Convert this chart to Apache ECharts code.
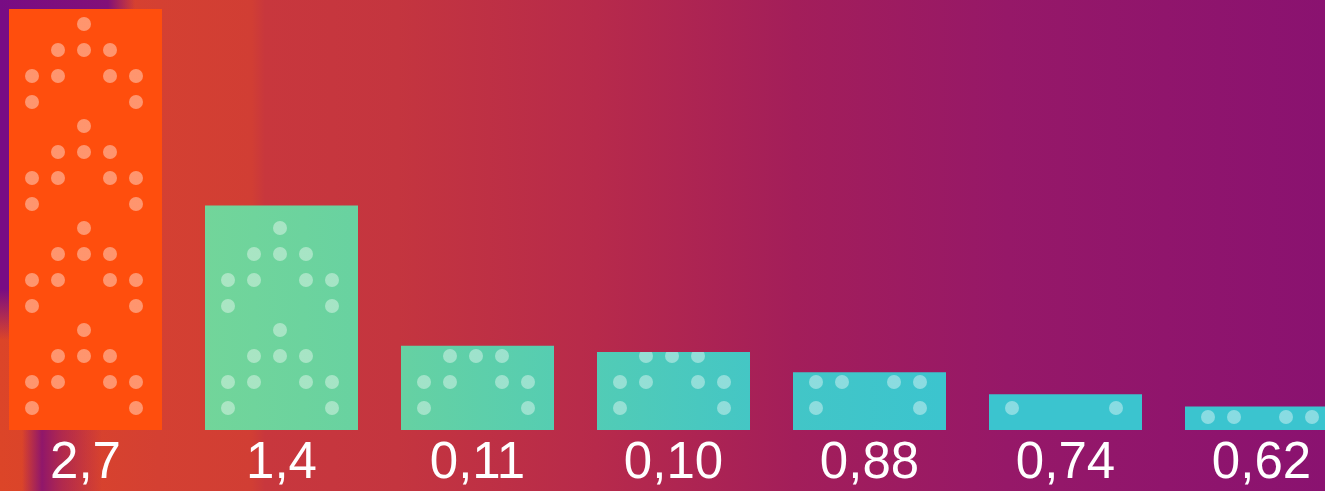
<!DOCTYPE html>
<html>
<head>
<meta charset="utf-8">
<script src="https://cdn.jsdelivr.net/npm/echarts@6/dist/echarts.min.js"></script>
<style>html,body{margin:0;padding:0;background:#fff;}#main{width:1325px;height:491px;}</style>
</head>
<body>
<div id="main"></div>
<script>
// ---- data ----
var categories = ['2,7', '1,4', '0,11', '0,10', '0,88', '0,74', '0,62'];
var values = [2.7, 1.44, 0.54, 0.5, 0.37, 0.23, 0.15];
var highlightIndex = 0;

// ---- decal (dot chevron pattern) styling ----
var DOT_ROWS = {
  A: [0, 77, 14, 105],
  B: [0, 51, 14, 12, 14, 12, 14, 79],
  C: [0, 25, 14, 12, 14, 38, 14, 12, 14, 53],
  D: [0, 25, 14, 90, 14, 53]
};
var fullRows = [[24,'A'],[50,'B'],[76,'C'],[102,'D'],[126,'A'],[152,'B'],[178,'C'],[204,'D'],
                [228,'A'],[254,'B'],[280,'C'],[306,'D'],[330,'A'],[356,'B'],[382,'C'],[408,'D']];
function rowsFrom(minCenter) { return fullRows.filter(function (r) { return r[0] >= minCenter; }); }
var barRows = [
  rowsFrom(0),
  rowsFrom(220),
  rowsFrom(350),
  rowsFrom(350),
  rowsFrom(380),
  rowsFrom(400),
  [[417, 'C']]
];

function makeDecal(rows) {
  var L = 520, dx = [], dy = [], pos = 0;
  rows.forEach(function (r, i) {
    var c = r[0], d, t;
    if (i === 0) { d = 2 * c; t = 0; } else { d = 14; t = c - 7; dy.push(t - pos); }
    dy.push(d);
    pos = t + d;
    dx.push(DOT_ROWS[r[1]]);
  });
  dy.push(L - pos);
  return {
    symbol: 'circle', symbolSize: 1, color: 'rgba(255,255,255,0.4)',
    dashArrayX: dx, dashArrayY: dy, maxTileWidth: 512, maxTileHeight: 9000
  };
}

var chart = echarts.init(document.getElementById('main'), null, { renderer: 'canvas' });

var barGradient = {
  type: 'linear', global: true, x: 205, y: 0, x2: 960, y2: 0,
  colorStops: [
    { offset: 0, color: '#72D59A' },
    { offset: 0.13, color: '#6CD39E' },
    { offset: 0.27, color: '#65D1A3' },
    { offset: 0.47, color: '#55CDB2' },
    { offset: 0.73, color: '#44C6C5' },
    { offset: 1, color: '#3BC4CF' }
  ]
};

var seriesData = values.map(function (v, i) {
  var style = { decal: makeDecal(barRows[i]) };
  if (i === highlightIndex) style.color = '#FF4E0D';
  return { value: v, itemStyle: style };
});

chart.setOption({
  animation: false,
  graphic: [
    { type: 'rect', z: -10, silent: true, shape: { x: 0, y: 0, width: 1325, height: 491 },
      style: { fill: { type: 'linear', x: 0, y: 0, x2: 1, y2: 0, colorStops: [
        { offset: 0, color: '#DC4528' },
        { offset: 0.12, color: '#D44032' },
        { offset: 0.19, color: '#D13E34' },
        { offset: 0.2, color: '#C8373D' },
        { offset: 0.3, color: '#C4353F' },
        { offset: 0.45, color: '#B72A4B' },
        { offset: 0.6, color: '#A31E5A' },
        { offset: 0.76, color: '#961868' },
        { offset: 1, color: '#8A1270' }
      ] } } },
    { type: 'rect', z: -9, silent: true, shape: { x: 0, y: 0, width: 10, height: 340 },
      style: { fill: { type: 'linear', x: 0, y: 0, x2: 0, y2: 1, colorStops: [
        { offset: 0, color: 'rgba(120,12,132,1)' },
        { offset: 0.85, color: 'rgba(120,12,132,1)' },
        { offset: 1, color: 'rgba(120,12,132,0)' }
      ] } } },
    { type: 'rect', z: -9, silent: true, shape: { x: 0, y: 0, width: 135, height: 10 },
      style: { fill: { type: 'linear', x: 0, y: 0, x2: 1, y2: 0, colorStops: [
        { offset: 0, color: 'rgba(120,12,132,1)' },
        { offset: 0.8, color: 'rgba(130,16,120,1)' },
        { offset: 1, color: 'rgba(130,16,120,0)' }
      ] } } },
    { type: 'rect', z: -9, silent: true, shape: { x: 22, y: 430, width: 80, height: 61 },
      style: { fill: { type: 'linear', x: 0, y: 0, x2: 1, y2: 0, colorStops: [
        { offset: 0, color: 'rgba(140,20,110,0)' },
        { offset: 0.25, color: 'rgba(140,20,110,0.95)' },
        { offset: 0.5, color: 'rgba(150,24,100,0.6)' },
        { offset: 1, color: 'rgba(150,24,100,0)' }
      ] } } }
  ],
  grid: { left: -12.5, right: -34.5, top: 9, bottom: 61, containLabel: false, outerBoundsMode: 'none' },
  xAxis: {
    type: 'category',
    data: categories,
    axisLine: { show: false },
    axisTick: { show: false },
    splitLine: { show: false },
    axisLabel: {
      show: true, interval: 0, margin: 8,
      color: '#FFFFFF', fontSize: 51, fontFamily: 'Liberation Sans, Arial, sans-serif',
      fontWeight: 'normal'
    }
  },
  yAxis: {
    type: 'value', min: 0, max: 2.7, show: false,
    splitLine: { show: false }
  },
  series: [{
    type: 'bar',
    data: seriesData,
    barWidth: 153,
    itemStyle: { color: barGradient }
  }]
});
</script>
</body>
</html>
